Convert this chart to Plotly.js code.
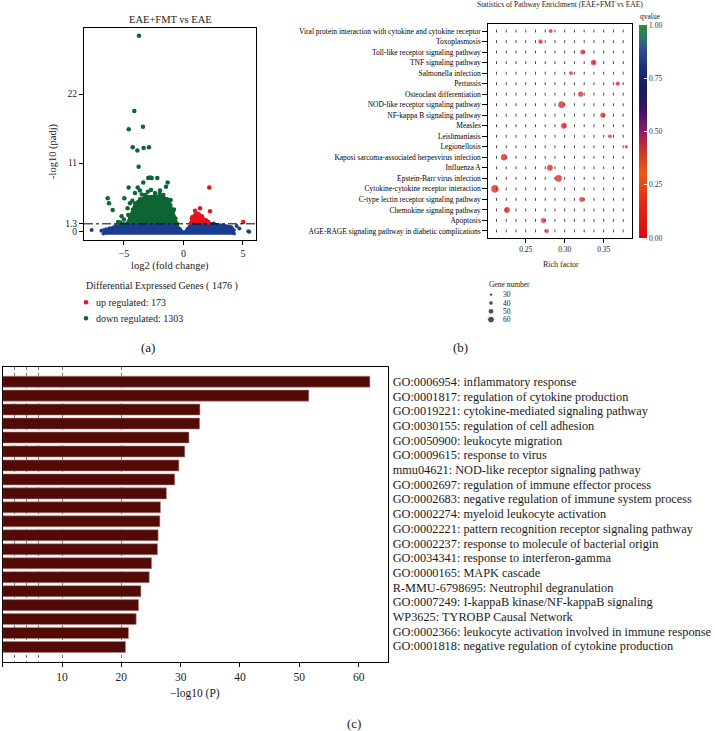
<!DOCTYPE html>
<html>
<head>
<meta charset="utf-8">
<script src="https://cdn.plot.ly/plotly-3.0.1.min.js"></script>
<style>html,body{margin:0;padding:0;background:#fff;}#chart{width:715px;height:731px;}</style>
</head>
<body>
<div id="chart"></div>
<script>
// ---------------- Panel (a): volcano plot ----------------
const upCount = 173;
const downCount = 1303;
const padjThreshold = 1.3;
const volcanoXTicks = [-5, 0, 5];
const volcanoYTicks = [0, 1.3, 11, 22];
// dense region outlines
const nsPolyX = [-6.74, -5.9, -5.4, -5.05, -0.57, -0.29, 0.04, 0.32, 0.6, 1.39, 1.96, 2.52, 3.08, 3.64, 4.06, 4.26, 4.26, -6.74];
const nsPolyY = [0.3, 0.75, 1.1, 1.3, 1.3, 0.5, -0.05, 0.5, 1.35, 1.45, 1.45, 1.4, 1.1, 0.95, 0.75, 0.3, -0.3, -0.3];
const downPolyX = [-4.78, -4.5, -4.27, -4.08, -3.66, -3.1, -2.39, -1.75, -1.36, -1.08, -0.86, -0.66, -0.52];
const downPolyY = [1.3, 2.5, 3.6, 4.6, 5.25, 5.7, 5.8, 5.7, 5.25, 4.3, 3.25, 2.2, 1.3];
const upPolyX = [0.6, 0.69, 0.97, 1.34, 1.62, 1.9, 2.09];
const upPolyY = [1.39, 2.2, 2.75, 2.75, 2.2, 1.9, 1.4];
// individual genes
const nsX = [-7.72, -6.9, -6.5, -6.2, -5.7, 3.4, 3.9, 4.1, 4.47, 4.7, 5.45, 5.53];
const nsY = [0.3, 0.2, 0.45, 0.6, 0.95, 1.05, 0.85, 0.1, 0.96, 0.55, 0.1, 0.05];
const downX = [-3.74, -4.13, -4.6, -3.4, -4.27, -3.88, -3.35, -2.9, -3.77, -2.82, -2.96, -2.2, -2.67, -3.38, -1.33, -4.61, -3.85, -3.66, -2.73, -1.97, -1.47, -6.37, -6.26, -5.95, -4.97, -4.5, -5.2, -4.64, -4.08, -3.24, -2.39, -1.69, -1.08, -5.5, -5.0, -3.0, -2.0, -3.5, -4.3, -0.8, -1.2, -4.7, -5.3];
const downY = [31.3, 19.3, 16.4, 16.8, 13.5, 13.0, 13.4, 13.5, 10.4, 8.7, 8.6, 8.6, 8.6, 7.9, 7.9, 7.1, 7.1, 6.6, 6.7, 6.6, 7.2, 5.4, 4.6, 3.5, 5.4, 4.6, 2.5, 2.7, 6.2, 5.9, 6.2, 5.9, 5.1, 1.6, 2.0, 6.4, 6.1, 6.0, 5.0, 3.6, 4.8, 3.8, 1.5];
const upX = [2.17, 2.23, 1.39, 0.97, 5.03, 1.72, 2.09, 0.75, 1.2, 1.55];
const upY = [7.1, 3.3, 3.8, 3.4, 1.6, 1.9, 1.6, 2.4, 2.9, 2.5];

// ---------------- Panel (b): KEGG enrichment dot plot ----------------
const pathways = [
  'Viral protein interaction with cytokine and cytokine receptor',
  'Toxoplasmosis',
  'Toll-like receptor signaling pathway',
  'TNF signaling pathway',
  'Salmonella infection',
  'Pertussis',
  'Osteoclast differentiation',
  'NOD-like receptor signaling pathway',
  'NF-kappa B signaling pathway',
  'Measles',
  'Leishmaniasis',
  'Legionellosis',
  'Kaposi sarcoma-associated herpesvirus infection',
  'Influenza A',
  'Epstein-Barr virus infection',
  'Cytokine-cytokine receptor interaction',
  'C-type lectin receptor signaling pathway',
  'Chemokine signaling pathway',
  'Apoptosis',
  'AGE-RAGE signaling pathway in diabetic complications'
];
const richFactor = [0.282, 0.269, 0.323, 0.337, 0.308, 0.368, 0.3205, 0.296, 0.349, 0.299, 0.358, 0.379, 0.2222, 0.281, 0.292, 0.2105, 0.322, 0.226, 0.2726, 0.277];
const geneNumber = [30, 34, 38, 44, 28, 32, 42, 54, 42, 48, 28, 24, 52, 48, 56, 62, 40, 48, 40, 32];
const qValue = [0.02, 0.03, 0.01, 0.0, 0.04, 0.05, 0.01, 0.0, 0.02, 0.0, 0.06, 0.08, 0.0, 0.0, 0.0, 0.0, 0.02, 0.0, 0.01, 0.04];
const richTicks = [0.25, 0.30, 0.35];
const richGrid = [0.2125, 0.225, 0.2375, 0.25, 0.2625, 0.275, 0.2875, 0.30, 0.3125, 0.325, 0.3375, 0.35, 0.3625, 0.375];
const qTicks = [0, 0.25, 0.5, 0.75, 1];
const geneLegend = [30, 40, 50, 60];

// ---------------- Panel (c): enrichment bar chart ----------------
const goTerms = [
  'GO:0006954: inflammatory response',
  'GO:0001817: regulation of cytokine production',
  'GO:0019221: cytokine-mediated signaling pathway',
  'GO:0030155: regulation of cell adhesion',
  'GO:0050900: leukocyte migration',
  'GO:0009615: response to virus',
  'mmu04621: NOD-like receptor signaling pathway',
  'GO:0002697: regulation of immune effector process',
  'GO:0002683: negative regulation of immune system process',
  'GO:0002274: myeloid leukocyte activation',
  'GO:0002221: pattern recognition receptor signaling pathway',
  'GO:0002237: response to molecule of bacterial origin',
  'GO:0034341: response to interferon-gamma',
  'GO:0000165: MAPK cascade',
  'R-MMU-6798695: Neutrophil degranulation',
  'GO:0007249: I-kappaB kinase/NF-kappaB signaling',
  'WP3625: TYROBP Causal Network',
  'GO:0002366: leukocyte activation involved in immune response',
  'GO:0001818: negative regulation of cytokine production'
];
// 20 bars are drawn in the picture (the label list beside them has 19 lines)
const barRank = [1, 2, 3, 4, 5, 6, 7, 8, 9, 10, 11, 12, 13, 14, 15, 16, 17, 18, 19, 20];
const logP = [61.9, 51.6, 33.25, 33.2, 31.4, 30.7, 29.7, 29.0, 27.6, 26.6, 26.5, 26.2, 26.1, 25.1, 24.7, 23.3, 22.9, 22.5, 21.2, 20.7];
const logPTicks = [0, 10, 20, 30, 40, 50, 60];
const logPGrid = [2, 4, 6, 10, 20];

// ---------------- helpers ----------------
const W = 715, H = 731;
const px = v => v / W;
const py = v => 1 - v / H;
const SERIF = 'Liberation Serif, Times New Roman, serif';
const INK = '#1a1a1a';
const BLUE = '#1b3c8e', GREEN = '#0d6534', RED = '#e3121d';

const traces = [];
// panel a
traces.push({type:'scatter', x:nsPolyX, y:nsPolyY, xaxis:'x', yaxis:'y', mode:'lines+markers', fill:'toself', fillcolor:BLUE, line:{color:BLUE, width:2}, marker:{size:3.5, color:BLUE}, hoverinfo:'skip'});
traces.push({type:'scatter', x:nsX, y:nsY, xaxis:'x', yaxis:'y', mode:'markers', marker:{size:4, color:BLUE}});
traces.push({type:'scatter', x:downPolyX, y:downPolyY, xaxis:'x', yaxis:'y', mode:'lines+markers', fill:'toself', fillcolor:GREEN, line:{color:GREEN, width:2}, marker:{size:4, color:GREEN}, hoverinfo:'skip'});
traces.push({type:'scatter', x:downX, y:downY, xaxis:'x', yaxis:'y', mode:'markers', marker:{size:4.5, color:GREEN}});
traces.push({type:'scatter', x:upPolyX, y:upPolyY, xaxis:'x', yaxis:'y', mode:'lines+markers', fill:'toself', fillcolor:RED, line:{color:RED, width:2}, marker:{size:4, color:RED}, hoverinfo:'skip'});
traces.push({type:'scatter', x:upX, y:upY, xaxis:'x', yaxis:'y', mode:'markers', marker:{size:4.5, color:RED}});
// panel a legend symbols
traces.push({type:'scatter', x:[0, 0], y:[0, 1], xaxis:'x5', yaxis:'y5', mode:'markers', marker:{size:4.5, color:[RED, GREEN]}});

// panel b grid marks
const gx = [], gy = [];
pathways.forEach(p => richGrid.forEach(r => { gx.push(r); gy.push(p); }));
traces.push({type:'scatter', x:gx, y:gy, xaxis:'x2', yaxis:'y2', mode:'markers', marker:{symbol:'line-ns', size:2, line:{width:0.9, color:'#333'}}, hoverinfo:'skip'});
const SIZEREF = 8.8;
traces.push({type:'scatter', x:richFactor, y:pathways, xaxis:'x2', yaxis:'y2', mode:'markers',
  marker:{size:geneNumber, sizemode:'diameter', sizeref:SIZEREF, color:qValue, cmin:0, cmax:1,
    line:{width:0.6, color:'#d80a12'},
    colorscale:[[0,'#dc0a12'],[0.15,'#e2260f'],[0.3,'#ee5a12'],[0.42,'#c8302a'],[0.5,'#8c1c68'],[0.6,'#3a1464'],[0.7,'#181a60'],[0.8,'#1e2e80'],[0.88,'#2f4c96'],[0.95,'#2d7a6a'],[1,'#2e8c34']],
    showscale:true,
    colorbar:{x:px(639), xanchor:'left', y:py(25), yanchor:'top', len:212.7, lenmode:'pixels', thickness:8, thicknessmode:'pixels',
      xpad:0, ypad:0, outlinewidth:0, tickvals:qTicks, ticktext:qTicks.map(v => v.toFixed(2)), ticks:'inside', ticklen:3, tickcolor:'#fff',
      tickfont:{family:SERIF, size:7.5, color:'#333'}}
  }});
// panel b gene-number legend symbols
traces.push({type:'scatter', x:geneLegend.map(() => 0), y:geneLegend, xaxis:'x4', yaxis:'y4', mode:'markers',
  marker:{size:geneLegend, sizemode:'diameter', sizeref:SIZEREF, color:'#000'}});

// panel c bars
traces.push({type:'bar', orientation:'h', x:logP, y:barRank, xaxis:'x3', yaxis:'y3',
  marker:{color:'#510a06', line:{color:'#b98b88', width:0.6}}});
// label axis for the GO term list needs a trace to be drawn
traces.push({type:'scatter', x:[null], y:[goTerms[0]], xaxis:'x3', yaxis:'y6', mode:'markers', hoverinfo:'skip'});

const axBase = {showline:true, linecolor:'#000', linewidth:1, mirror:true, showgrid:false, zeroline:false, fixedrange:true};

const annotations = [];
const ann = (text, x, y, size, extra) => annotations.push(Object.assign({text, x:px(x), y:py(y), xref:'paper', yref:'paper', xanchor:'center', yanchor:'middle', showarrow:false, font:{family:SERIF, size, color:INK}}, extra || {}));
ann('EAE+FMT vs EAE', 170, 19, 10.5);
ann('-log10 (padj)', 53, 151, 10.5, {textangle:-90});
ann('log2 (fold change)', 170, 266, 10.5);
ann('Differential Expressed Genes ( ' + (upCount + downCount) + ' )', 84, 285.7, 10, {xanchor:'left'});
annotations.push({text:'up regulated: ' + upCount, x:px(94.3), xref:'paper', y:0, yref:'y5', xanchor:'left', yanchor:'middle', showarrow:false, font:{family:SERIF, size:10, color:INK}});
annotations.push({text:'down regulated: ' + downCount, x:px(94.3), xref:'paper', y:1, yref:'y5', xanchor:'left', yanchor:'middle', showarrow:false, font:{family:SERIF, size:10, color:INK}});
ann('(a)', 148, 347, 13);
ann('(b)', 461, 347, 13);
ann('(c)', 354, 723, 13);
ann('Statistics of Pathway Enrichment (EAE+FMT vs EAE)', 560, 5, 7.5);
ann('Rich factor', 560.5, 264, 8);
ann('qvalue', 650.5, 16.5, 7.5);
ann('Gene number', 487.5, 284.5, 7.5, {xanchor:'left'});
geneLegend.forEach(g => annotations.push({text:String(g), x:px(501), xref:'paper', y:g, yref:'y4', xanchor:'left', yanchor:'middle', showarrow:false, font:{family:SERIF, size:7.5, color:INK}}));
ann('\u2212log10 (P)', 195, 693, 11.5);

const layout = {
  width:W, height:H, margin:{l:0, r:0, t:0, b:0}, paper_bgcolor:'#fff', plot_bgcolor:'rgba(0,0,0,0)', showlegend:false,
  font:{family:SERIF, color:INK},
  xaxis: Object.assign({}, axBase, {domain:[px(84), px(255.7)], range:[-8.36, 6.07], anchor:'y', tickmode:'array', tickvals:volcanoXTicks,
    ticks:'outside', ticklen:4, tickcolor:'#000', tickfont:{family:SERIF, size:10, color:INK}}),
  yaxis: Object.assign({}, axBase, {domain:[py(240), py(28.3)], range:[-1.28, 32.5], anchor:'x', tickmode:'array', tickvals:volcanoYTicks,
    ticktext:volcanoYTicks.map(String), ticks:'outside', ticklen:4, tickcolor:'#000', tickfont:{family:SERIF, size:9.5, color:INK}}),
  xaxis2: Object.assign({}, axBase, {domain:[px(488.3), px(632.3)], range:[0.2020, 0.3867], anchor:'y2', tickmode:'array', tickvals:richTicks,
    ticktext:richTicks.map(v => v.toFixed(2)), ticks:'outside', ticklen:4, tickcolor:'#000', tickfont:{family:SERIF, size:7.5, color:INK}}),
  yaxis2: Object.assign({}, axBase, {domain:[py(237.7), py(24.3)], type:'category', categoryorder:'array', categoryarray:pathways.slice().reverse(),
    range:[-0.64, 19.64], anchor:'x2', ticks:'outside', ticklen:5, tickcolor:'#000', tickfont:{family:SERIF, size:7.5, color:'#000'}}),
  xaxis3: Object.assign({}, axBase, {domain:[px(2.7), px(387.7)], range:[0, 64.9], anchor:'y3', tickmode:'array', tickvals:logPTicks,
    ticks:'outside', ticklen:4, tickcolor:'#000', tickfont:{family:SERIF, size:11.5, color:INK},
    minor:{tickmode:'array', tickvals:logPGrid, showgrid:true, gridcolor:'#777', griddash:'dot', gridwidth:1, ticks:''}}),
  yaxis3: Object.assign({}, axBase, {domain:[py(661.7), py(366.7)], range:[21.05, -0.07], anchor:'x3', showticklabels:false, ticks:''}),
  yaxis6: {overlaying:'y3', type:'category', categoryorder:'array', categoryarray:goTerms, range:[19.073, -1.022],
    anchor:'x3', side:'right', showline:false, showgrid:false, zeroline:false, ticks:'', ticklabelstandoff:4, fixedrange:true,
    tickmode:'array', tickvals:goTerms, ticktext:goTerms,
    tickfont:{family:SERIF, size:12.3, color:INK}},
  xaxis4: {domain:[px(485), px(497)], range:[-1, 1], anchor:'y4', visible:false, fixedrange:true},
  yaxis4: {domain:[py(323.7), py(290.6)], range:[65, 25], anchor:'x4', visible:false, fixedrange:true},
  xaxis5: {domain:[px(80), px(92)], range:[-1, 1], anchor:'y5', visible:false, fixedrange:true},
  yaxis5: {domain:[py(326.3), py(294.3)], range:[1.5, -0.5], anchor:'x5', visible:false, fixedrange:true},
  bargap:0.21,
  shapes:[{type:'line', xref:'x domain', yref:'y', x0:0, x1:1, y0:padjThreshold, y1:padjThreshold, line:{color:'#000', width:1, dash:'dashdot'}}],
  annotations
};

Plotly.newPlot('chart', traces, layout, {staticPlot:true, displayModeBar:false});
</script>
</body>
</html>
